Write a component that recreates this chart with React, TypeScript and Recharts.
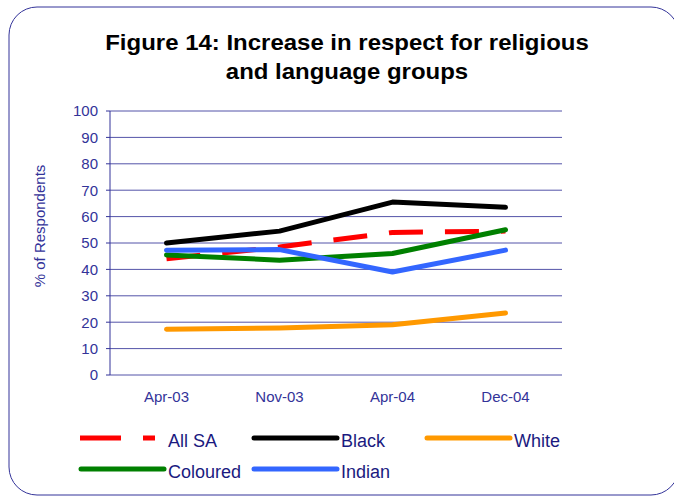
import React from 'react';
import { LineChart, Line, XAxis, YAxis, CartesianGrid } from 'recharts';

const categories = ['Apr-03', 'Nov-03', 'Apr-04', 'Dec-04'];
const allSA = [44, 48.5, 54, 54.5];
const black = [50, 54.5, 65.5, 63.5];
const white = [17.3, 17.8, 19, 23.5];
const coloured = [45.5, 43.5, 46, 55];
const indian = [47.3, 47.5, 39, 47.3];
const yTicks = [0, 10, 20, 30, 40, 50, 60, 70, 80, 90, 100];
const boundaryTicks = [0, 1, 2, 3, 4];

const seriesNames = ['All SA', 'Black', 'White', 'Coloured', 'Indian'];
const seriesKeys = ['allSA', 'black', 'white', 'coloured', 'indian'];
const seriesColors = ['#ff0000', '#000000', '#ff9900', '#008000', '#3366ff'];
const seriesDash = ['34 22', undefined, undefined, undefined, undefined];

const data = categories.map((cat, i) => ({
  cat,
  allSA: allSA[i],
  black: black[i],
  white: white[i],
  coloured: coloured[i],
  indian: indian[i],
}));

const NAVY = '#333399';
const TEXT_NAVY = '#1a1a80';
const FONT = '"Liberation Sans", Arial, sans-serif';

const legendRows = [[0, 1, 2], [3, 4]];

export default function App() {
  return (
    <div style={{ position: 'absolute', left: 0, top: 0, width: 674, height: 499, background: '#fff', fontFamily: FONT }}>
      <svg width={674} height={499} style={{ position: 'absolute', left: 0, top: 0 }}>
        <rect x={9} y={7} width={670} height={488} rx={28} ry={28} fill="#fff" stroke={NAVY} strokeWidth={1} />
        <g transform="translate(347 0) scale(1.09 1)">
          <text x={0} y={50} textAnchor="middle" fontFamily={FONT} fontWeight="bold" fontSize={22} fill="#000">
            Figure 14: Increase in respect for religious
          </text>
          <text x={0} y={79} textAnchor="middle" fontFamily={FONT} fontWeight="bold" fontSize={22} fill="#000">
            and language groups
          </text>
        </g>
        <text x={45} y={226} transform="rotate(-90 45 226)" textAnchor="middle" fontFamily={FONT} fontSize={15} fill={NAVY}>
          % of Respondents
        </text>
      </svg>
      <div style={{ position: 'absolute', left: 0, top: 0 }}>
        <LineChart width={674} height={499} data={data} margin={{ top: 111, right: 112, bottom: 94, left: 0 }}>
          <CartesianGrid xAxisId="cat" vertical={false} stroke="#5353a8" strokeWidth={1} />
          <XAxis
            xAxisId="edge"
            type="number"
            domain={[0, 4]}
            ticks={boundaryTicks}
            tick={false}
            height={0}
            tickSize={5}
            axisLine={{ stroke: NAVY, strokeWidth: 2.5 }}
            tickLine={{ stroke: NAVY, strokeWidth: 2 }}
            allowDataOverflow
          />
          <XAxis
            xAxisId="cat"
            dataKey="cat"
            padding={{ left: 56.5, right: 56.5 }}
            axisLine={false}
            tickLine={false}
            tickSize={5}
            tickMargin={11}
            height={30}
            tick={{ fill: NAVY, fontSize: 15, fontFamily: FONT }}
          />
          <YAxis
            domain={[0, 100]}
            ticks={yTicks}
            width={110}
            tickSize={4}
            tickMargin={8}
            axisLine={{ stroke: NAVY, strokeWidth: 1 }}
            tickLine={{ stroke: NAVY, strokeWidth: 1 }}
            tick={{ fill: NAVY, fontSize: 15, fontFamily: FONT }}
            interval={0}
          />
          {seriesKeys.map((k, i) => (
            <Line
              key={k}
              xAxisId="cat"
              dataKey={k}
              name={seriesNames[i]}
              stroke={seriesColors[i]}
              strokeWidth={5}
              strokeDasharray={seriesDash[i]}
              strokeLinecap={seriesDash[i] ? 'butt' : 'round'}
              strokeLinejoin="round"
              dot={false}
              activeDot={false}
              isAnimationActive={false}
            />
          ))}
        </LineChart>
      </div>
      <div style={{ position: 'absolute', left: 0, top: 0 }}>
        {legendRows.map((row, r) =>
          row.map((si, c) => (
            <div
              key={si}
              style={{
                position: 'absolute',
                left: 78 + c * 173,
                top: 427 + r * 31,
                display: 'flex',
                alignItems: 'center',
                height: 24,
                whiteSpace: 'nowrap',
              }}
            >
              <svg width={90} height={24} style={{ display: 'block' }}>
                <line
                  x1={seriesDash[si] ? 2 : 3}
                  y1={11}
                  x2={86}
                  y2={11}
                  stroke={seriesColors[si]}
                  strokeWidth={5}
                  strokeLinecap={seriesDash[si] ? 'butt' : 'round'}
                  strokeDasharray={seriesDash[si] ? '41 22 12 100' : undefined}
                />
              </svg>
              <span style={{ color: TEXT_NAVY, fontSize: 18, fontFamily: FONT, lineHeight: '24px', marginTop: 3 }}>{seriesNames[si]}</span>
            </div>
          ))
        )}
      </div>
    </div>
  );
}
